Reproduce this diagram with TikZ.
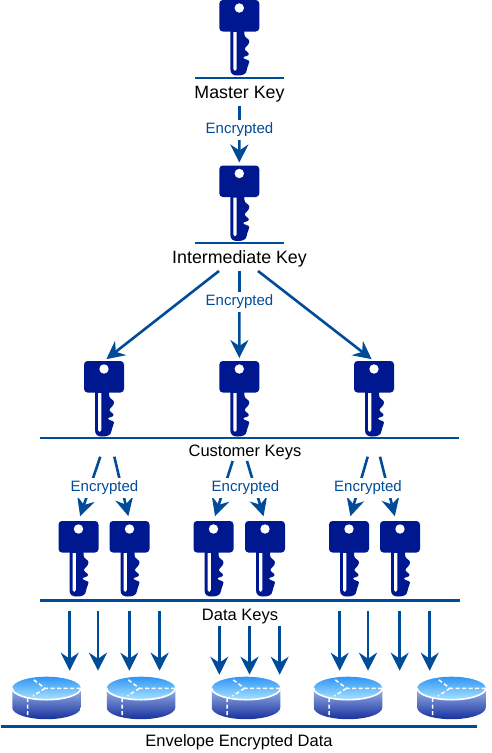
\documentclass[tikz,border=0pt]{standalone}
\usepackage{fontspec}
\setmainfont{Liberation Sans}
\usetikzlibrary{arrows.meta,positioning}
\definecolor{keyblue}{HTML}{00188F}
\definecolor{flowblue}{HTML}{004C99}
\definecolor{disktop}{HTML}{2F95F5}
\definecolor{disklight}{HTML}{A8E2FF}
\definecolor{diskmid}{HTML}{9AB4EA}
\definecolor{diskdark}{HTML}{18309C}

\begin{document}
\begin{tikzpicture}
  [
   x=1pt,y=-1pt,
   keyn/.style={inner sep=0pt,minimum width=40pt,minimum height=75.5pt,anchor=north},
   diskn/.style={inner sep=0pt,minimum width=68.5pt,minimum height=42.5pt,anchor=north},
   flow/.style={draw=flowblue,line width=2.6pt,-{Stealth[length=18pt,width=18pt,inset=6pt]}},
   rule/.style={draw=flowblue,line width=2.6pt},
   enc/.style={fill=white,text=flowblue,font=\fontsize{15}{16}\selectfont,inner xsep=1pt,inner ysep=0pt,minimum height=20pt},
   lab/.style={inner sep=0pt,font=\fontsize{16.5}{18}\selectfont},
   biglab/.style={inner sep=0pt,font=\fontsize{17.8}{20}\selectfont},
   keyicon/.pic={
     \fill[keyblue,rounded corners=3.5pt] (-20,0) rectangle (20,31.5);
     \fill[keyblue] (-9,29) -- (-9,69) .. controls (-9,74) and (-6,75.5) .. (-2,75.5)
       .. controls (3,75.5) and (7,74.5) .. (7.5,70) .. controls (8,66) and (10,64) .. (10,61.5)
       .. controls (10,59.5) and (4,59.5) .. (4,57.5) .. controls (4,56) and (9.5,56.5) .. (9.5,54)
       .. controls (9.5,52) and (5.5,51) .. (5.5,49) .. controls (5.5,47) and (10,45) .. (10,41.5)
       .. controls (10,38) and (5,38.5) .. (5,34) -- (5,29) -- cycle;
     \fill[white] (0,8) circle (4.7);
     \fill[white] (-6,32) -- (-6,69) .. controls (-6,71.5) and (-2.6,71.5) .. (-2.6,69) -- (-2.6,32) -- cycle;
   },
   diskicon/.pic={
     \shade[top color=diskmid,bottom color=diskdark]
       (-34.25,11.5) -- (-34.25,31) .. controls (-34.25,37.35) and (-18.9,42.5) .. (0,42.5)
       .. controls (18.9,42.5) and (34.25,37.35) .. (34.25,31) -- (34.25,11.5) -- cycle;
     \shade[top color=disktop,bottom color=disklight] (0,11.5) ellipse (34.25 and 11.5);
     \draw[white,line width=1.6pt] (-34.25,11.5) .. controls (-34.25,17.85) and (-18.9,23) .. (0,23)
       .. controls (18.9,23) and (34.25,17.85) .. (34.25,11.5);
     \draw[white,line width=1.5pt,dash pattern=on 4pt off 2.5pt]
       (34,11.6) -- (-1.5,11.6) -- (-13.5,2.6) (-1.5,11.6) -- (-13.5,19.3) (-18.8,21.3) -- (-18.8,41.3);
   }
  ]
   \useasboundingbox (0,0) rectangle (492,753);

   % keys
   \node[keyn] (kmaster) at (239.3,0) {};
   \node[keyn] (kinter) at (239.3,165.5) {};
   \node[keyn] (kcustl) at (104,361) {};
   \node[keyn] (kcustm) at (239.3,361) {};
   \node[keyn] (kcustr) at (374,361) {};
   \node[keyn] (kdata1) at (78.5,521) {};
   \node[keyn] (kdata2) at (129.5,521) {};
   \node[keyn] (kdata3) at (213.5,521) {};
   \node[keyn] (kdata4) at (265,521) {};
   \node[keyn] (kdata5) at (349,521) {};
   \node[keyn] (kdata6) at (400,521) {};
   \pic at (kmaster.north) {keyicon};
   \pic at (kinter.north) {keyicon};
   \pic at (kcustl.north) {keyicon};
   \pic at (kcustm.north) {keyicon};
   \pic at (kcustr.north) {keyicon};
   \pic at (kdata1.north) {keyicon};
   \pic at (kdata2.north) {keyicon};
   \pic at (kdata3.north) {keyicon};
   \pic at (kdata4.north) {keyicon};
   \pic at (kdata5.north) {keyicon};
   \pic at (kdata6.north) {keyicon};

   % disks
   \node[diskn] (disk1) at (46.5,676.7) {};
   \node[diskn] (disk2) at (141,676.7) {};
   \node[diskn] (disk3) at (246,676.7) {};
   \node[diskn] (disk4) at (348,676.7) {};
   \node[diskn] (disk5) at (451.5,676.7) {};
   \pic at (disk1.north) {diskicon};
   \pic at (disk2.north) {diskicon};
   \pic at (disk3.north) {diskicon};
   \pic at (disk4.north) {diskicon};
   \pic at (disk5.north) {diskicon};

   % rules
   \draw[rule] (195,78) -- (284,78);
   \draw[rule] (195,243) -- (284,243);
   \draw[rule] (40,438) -- (459,438);
   \draw[rule] (40,600.5) -- (460,600.5);
   \draw[rule] (1,726.5) -- (477,726.5);

   % free ends of the arrows
   \coordinate (s1) at (239.5,106);
   \coordinate (s2) at (219,271);
   \coordinate (s3) at (239.5,271);
   \coordinate (s4) at (258,271);
   \coordinate (s5) at (100.3,456.7);
   \coordinate (s6) at (114.3,456.7);
   \coordinate (s7) at (232.7,461);
   \coordinate (s8) at (247,461);
   \coordinate (s9) at (367.7,456.7);
   \coordinate (s10) at (380,456.7);
   \coordinate (t1) at (69.7,611);
   \coordinate (t2) at (98,611);
   \coordinate (t3) at (129.3,611);
   \coordinate (t4) at (159.6,611);
   \coordinate (t5) at (219.3,626);
   \coordinate (t6) at (249.5,626);
   \coordinate (t7) at (279.7,626);
   \coordinate (t8) at (339.7,611);
   \coordinate (t9) at (368,611);
   \coordinate (t10) at (399.7,611);
   \coordinate (t11) at (429.7,611);

   \draw[flow,shorten >=3pt] (s1) -- (kinter.north);
   \draw[flow,shorten >=3pt] (s2) -- (kcustl.north);
   \draw[flow,shorten >=3pt] (s3) -- (kcustm.north);
   \draw[flow,shorten >=3pt] (s4) -- (kcustr.north);
   \draw[flow,shorten >=5pt] (s5) -- (kdata1.north);
   \draw[flow,shorten >=5pt] (s6) -- (kdata2.north);
   \draw[flow,shorten >=5pt] (s7) -- (kdata3.north);
   \draw[flow,shorten >=5pt] (s8) -- (kdata4.north);
   \draw[flow,shorten >=5pt] (s9) -- (kdata5.north);
   \draw[flow,shorten >=5pt] (s10) -- ([xshift=-4pt]kdata6.north);
   \draw[flow,shorten >=6pt] (t1) -- (t1 |- disk1.north);
   \draw[flow,shorten >=6pt] (t2) -- (t2 |- disk1.north);
   \draw[flow,shorten >=6pt] (t3) -- (t3 |- disk2.north);
   \draw[flow,shorten >=6pt] (t4) -- (t4 |- disk2.north);
   \draw[flow,shorten >=2pt] (t5) -- (t5 |- disk3.north);
   \draw[flow,shorten >=2pt] (t6) -- (t6 |- disk3.north);
   \draw[flow,shorten >=2pt] (t7) -- (t7 |- disk3.north);
   \draw[flow,shorten >=6pt] (t8) -- (t8 |- disk4.north);
   \draw[flow,shorten >=6pt] (t9) -- (t9 |- disk4.north);
   \draw[flow,shorten >=6pt] (t10) -- (t10 |- disk5.north);
   \draw[flow,shorten >=6pt] (t11) -- (t11 |- disk5.north);

   % labels
   \node[biglab] (lmaster) at (239.5,94) {Master Key};
   \node[biglab] (linter) at (239.5,258.5) {Intermediate Key};
   \node[lab] (lcust) at (245,452) {Customer Keys};
   \node[lab] (ldata) at (240,617) {Data Keys};
   \node[lab] (lenv) at (239,742) {Envelope Encrypted Data};
   \node[enc] (e1) at (239.5,130) {Encrypted};
   \node[enc] (e2) at (239.5,302) {Encrypted};
   \node[enc] (e3) at (104.5,488) {Encrypted};
   \node[enc] (e4) at (245.5,488) {Encrypted};
   \node[enc] (e5) at (368,488) {Encrypted};
\end{tikzpicture}
\end{document}
